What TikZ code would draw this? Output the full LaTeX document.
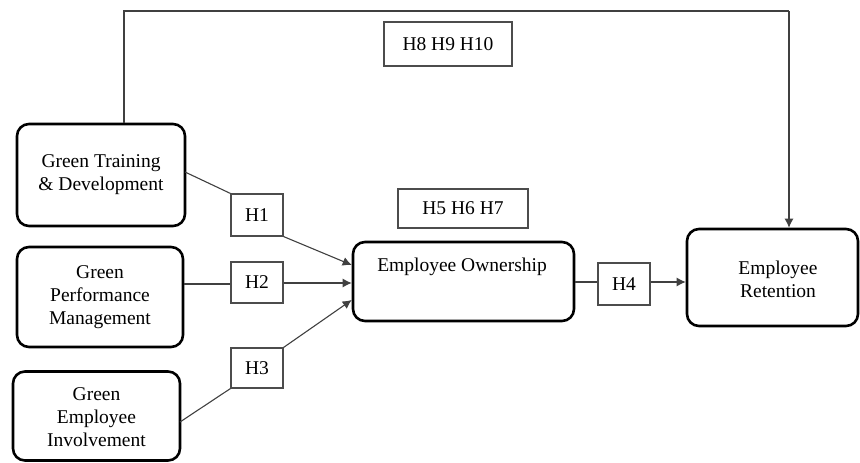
\documentclass[tikz,border=0pt]{standalone}
\usepackage{fontspec}
\setmainfont{Liberation Serif}
\usetikzlibrary{arrows.meta}
\begin{document}
\begin{tikzpicture}[x=1pt,y=-1pt,
  bigbox/.style={draw=black, line width=2.6pt, rounded corners=12pt, fill=white, inner sep=0pt},
  hbox/.style={draw=black!70, line width=1.1pt, fill=white, inner sep=0pt},
  conn/.style={draw=black!75, line width=1.1pt},
  arr/.style={conn, -{Latex[length=9pt,width=9pt]}},
  txt/.style={font=\fontsize{19.5}{23}\selectfont, align=center, inner sep=0pt}
]
\useasboundingbox (0,0) rectangle (860,463);
% big boxes
\node[bigbox, minimum width=168pt, minimum height=102pt] (gtd) at (101,175) {};
\node[txt] (gtdt) at (101,175) {Green Training\\\& Development};
\node[bigbox, minimum width=166pt, minimum height=100pt] (gpm) at (100,297) {};
\node[txt] (gpmt) at (100,297.5) {Green\\Performance\\Management};
\node[bigbox, minimum width=167pt, minimum height=89pt] (gei) at (96.5,416) {};
\node[txt] (geit) at (96.5,417.5) {Green\\Employee\\Involvement};
\node[bigbox, minimum width=221pt, minimum height=79pt] (eo) at (463.5,281.5) {};
\node[txt] (eot) at (462,267) {Employee Ownership};
\node[bigbox, minimum width=171pt, minimum height=97pt] (er) at (772.5,277.5) {};
\node[txt] (ert) at (778,279.5) {Employee\\Retention};
% hypothesis boxes
\node[hbox, minimum width=52pt, minimum height=42pt] (h1) at (257,215) {};
\node[txt] (h1t) at (257,215) {H1};
\node[hbox, minimum width=52pt, minimum height=41pt] (h2) at (257,282.5) {};
\node[txt] (h2t) at (257,282.5) {H2};
\node[hbox, minimum width=52pt, minimum height=40pt] (h3) at (257,368) {};
\node[txt] (h3t) at (257,368) {H3};
\node[hbox, minimum width=52pt, minimum height=42pt] (h4) at (624,284) {};
\node[txt] (h4t) at (624,284) {H4};
\node[hbox, minimum width=130pt, minimum height=39pt] (h567) at (463,208.5) {};
\node[txt] (h567t) at (463,208.5) {H5 H6 H7};
\node[hbox, minimum width=128pt, minimum height=44pt] (h8910) at (448,44) {};
\node[txt] (h8910t) at (448,44) {H8 H9 H10};
% connectors
\coordinate (top1) at (124,11);
\coordinate (top2) at (789,11);
\draw[conn] (gtd.north west -| top1) -- (top1) -- (top2);
\draw[arr] (top2) -- (top2 |- er.north);
\draw[conn] (185,172) -- (h1.north west);
\draw[arr] (h1.south east) -- (eo.west |- 0,265);
\draw[conn] (gpm.east |- 0,284) -- (h2.west |- 0,284);
\draw[arr] (h2.east |- 0,283) -- (eo.west |- 0,283);
\draw[conn] (180,422) -- (h3.south west);
\draw[arr] (h3.north east) -- (eo.west |- 0,300);
\draw[conn] (eo.east |- 0,282) -- (h4.west |- 0,282);
\draw[arr] (h4.east |- 0,282) -- (er.west |- 0,282);
\end{tikzpicture}
\end{document}
